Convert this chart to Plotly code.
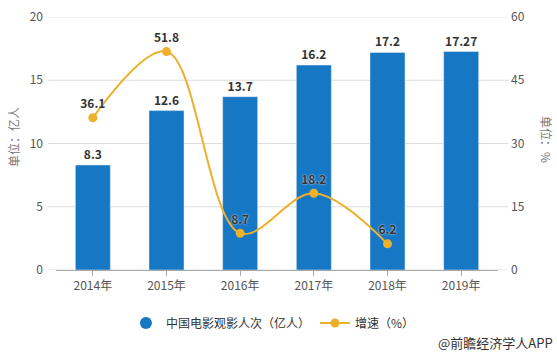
import plotly.graph_objects as go

years = ["2014年", "2015年", "2016年", "2017年", "2018年", "2019年"]
viewers = [8.3, 12.6, 13.7, 16.2, 17.2, 17.27]
viewer_labels = ["8.3", "12.6", "13.7", "16.2", "17.2", "17.27"]
growth_years = ["2014年", "2015年", "2016年", "2017年", "2018年"]
growth = [36.1, 51.8, 8.7, 18.2, 6.2]
left_ticks = [0, 5, 10, 15, 20]

BLUE = "#1677C4"
ORANGE = "#EDB02D"
FONT = "Noto Sans CJK SC"
PW = 442
PH = 253

fig = go.Figure()

fig.add_trace(go.Bar(
    x=years, y=viewers, width=0.475, marker_color=BLUE,
    text=[f"<b>{t}</b>" for t in viewer_labels], textposition="outside",
    textfont=dict(size=12, color="#333333", family=FONT),
    cliponaxis=False, showlegend=False, name="中国电影观影人次（亿人）",
))
# legend proxy with circle symbol
fig.add_trace(go.Scatter(
    x=[None], y=[None], mode="markers", name="中国电影观影人次（亿人）",
    marker=dict(symbol="circle", size=12, color=BLUE),
))
fig.add_trace(go.Scatter(
    x=growth_years, y=growth, yaxis="y2", mode="lines+markers+text",
    name="增速（%）",
    line=dict(color=ORANGE, width=2, shape="spline", smoothing=1.0),
    marker=dict(size=9, color=ORANGE),
    text=[f"<b>{v}</b>" for v in growth], textposition="top center",
    textfont=dict(size=12, color="#333333", family=FONT, shadow="0px 0px 2px white"),
    cliponaxis=False,
))

shapes = [dict(type="line", xref="paper", yref="y", layer="below",
               x0=-8 / PW, x1=1 + 10 / PW, y0=v, y1=v,
               line=dict(color="#DDDDDD", width=1)) for v in left_ticks]

fig.update_layout(
    width=557, height=352,
    margin=dict(l=56, r=59, t=17, b=82, autoexpand=False),
    paper_bgcolor="white", plot_bgcolor="white",
    font=dict(family=FONT, size=12, color="#555555"),
    bargap=0.5,
    shapes=shapes,
    xaxis=dict(
        showline=True, linecolor="#AAAAAA", linewidth=1,
        ticks="outside", ticklen=5, tickcolor="#AAAAAA",
        tickfont=dict(size=12, color="#555555"),
    ),
    yaxis=dict(
        range=[0, 20], tickvals=left_ticks, showgrid=False,
        zeroline=False, tickfont=dict(size=12, color="#555555"),
        ticklabelstandoff=12,
    ),
    yaxis2=dict(
        range=[0, 60], dtick=15, overlaying="y", side="right", showgrid=False,
        zeroline=False, tickfont=dict(size=12, color="#555555"),
        ticklabelstandoff=12,
    ),
    legend=dict(
        orientation="h", xref="container", yref="container",
        x=0.49, xanchor="center", y=(352 - 323) / 352, yanchor="middle",
        font=dict(size=12, color="#333333"), itemwidth=30,
    ),
    annotations=[
        dict(text="@前瞻经济学人APP", xref="paper", yref="paper",
             x=(555 - 56) / PW, y=-(342 - 270) / PH, xanchor="right", yanchor="middle",
             showarrow=False, font=dict(size=13, color="#333333")),
        dict(text="单位：亿人", xref="paper", yref="paper", textangle=-90,
             x=(13 - 56) / PW, y=(270 - 137) / PH, xanchor="center", yanchor="middle",
             showarrow=False, font=dict(size=12, color="#777777")),
        dict(text="单位：%", xref="paper", yref="paper", textangle=90,
             x=(547 - 56) / PW, y=(270 - 139) / PH, xanchor="center", yanchor="middle",
             showarrow=False, font=dict(size=12, color="#777777")),
    ],
)

fig.write_html("out.html")
